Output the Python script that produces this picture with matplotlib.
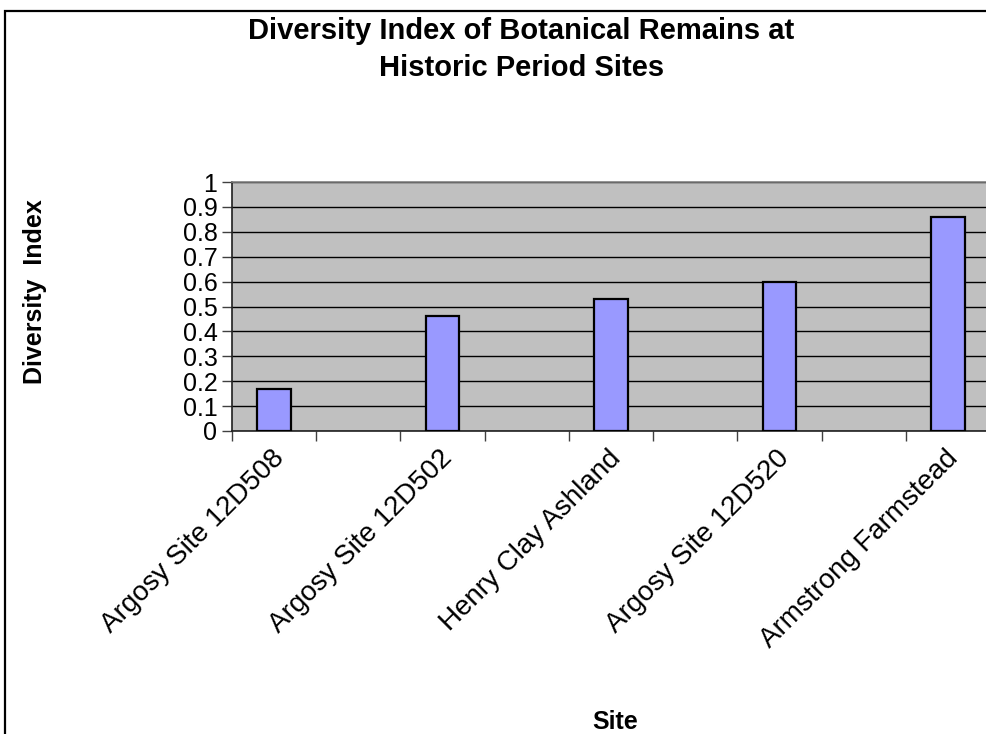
import numpy as np
import matplotlib
matplotlib.use('Agg')
import matplotlib.pyplot as plt
import matplotlib.transforms as mtransforms
from matplotlib.patches import Rectangle

sites = ['Argosy Site 12D508', 'Argosy Site 12D502', 'Henry Clay Ashland',
         'Argosy Site 12D520', 'Armstrong Farmstead']
diversity = [0.17, 0.46, 0.53, 0.60, 0.86]
yticks = [0, 0.1, 0.2, 0.3, 0.4, 0.5, 0.6, 0.7, 0.8, 0.9, 1]

plt.rcParams['font.family'] = ['Liberation Sans', 'DejaVu Sans']

W, H = 986, 734
fig = plt.figure(figsize=(W / 100, H / 100), dpi=100)

# chart border (cropped on the right and bottom in the original)
fig.patches.append(Rectangle((5 / W, -0.1), 1.2, 1 - 11 / H + 0.1,
                             transform=fig.transFigure, fill=False,
                             ec='black', lw=1.6))

ax = fig.add_axes([232 / W, 1 - 431 / H, (990 - 232) / W, (431 - 182) / H])
ax.set_facecolor('#C0C0C0')

x = np.arange(len(sites)) * 2
ax.bar(x, diversity, width=0.4, color='#9999FF', edgecolor='black', lw=1.6, zorder=3)

ax.set_xlim(-0.5, 8.5)
ax.set_ylim(0, 1)
ax.set_yticks(yticks)
ax.set_yticklabels(['%g' % v for v in yticks], fontsize=18)
ax.yaxis.grid(True, color='black', lw=1.0, zorder=1)
ax.set_axisbelow(True)

# ticks at category boundaries, labels at bar centres
ax.set_xticks(np.arange(-0.5, 9, 1))
ax.set_xticklabels([])
ax.set_xticks(x, minor=True)
ax.set_xticklabels(sites, minor=True, rotation=45, ha='right', va='center',
                   rotation_mode='anchor', fontsize=20)
ax.tick_params(axis='x', which='minor', length=0, pad=17)
ax.tick_params(axis='both', which='major', length=7, width=1, color='#404040', direction='out')
shift = mtransforms.ScaledTranslation(6 / 100, 0, fig.dpi_scale_trans)
for lab in ax.get_xticklabels(minor=True):
    lab.set_transform(lab.get_transform() + shift)

for s in ['left', 'bottom']:
    ax.spines[s].set_color('#202020')
    ax.spines[s].set_linewidth(1.2)
ax.spines['top'].set_color('#808080')
ax.spines['top'].set_linewidth(1.2)
ax.spines['right'].set_visible(False)

fig.text(0.529, 1 - 17 / H, 'Diversity Index of Botanical Remains at\nHistoric Period Sites',
         ha='center', va='top', fontsize=21, fontweight='bold', linespacing=1.4)
fig.text(35 / W, 1 - 292 / H, 'Diversity  Index', rotation=90, ha='center', va='center',
         fontsize=18, fontweight='bold')
fig.text(615 / W, 1 - 722 / H, 'Site', ha='center', va='center', fontsize=18, fontweight='bold')

fig.savefig('out.png', dpi=100)
